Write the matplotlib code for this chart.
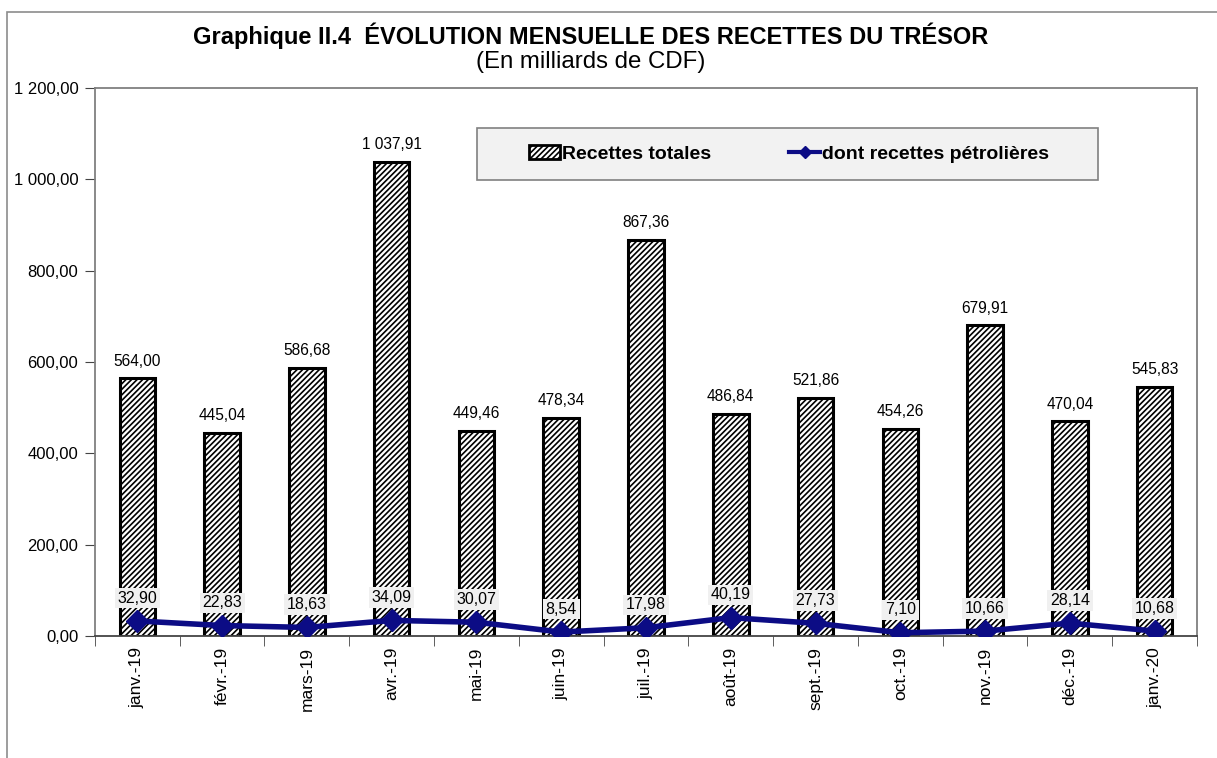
import matplotlib.pyplot as plt
from matplotlib.patches import Rectangle
from matplotlib.lines import Line2D
from matplotlib.ticker import FuncFormatter
import numpy as np

plt.rcParams['font.family'] = ['Liberation Sans', 'DejaVu Sans']
plt.rcParams['hatch.linewidth'] = 1.2

mois = ['janv.-19', 'févr.-19', 'mars-19', 'avr.-19', 'mai-19', 'juin-19', 'juil.-19',
        'août-19', 'sept.-19', 'oct.-19', 'nov.-19', 'déc.-19', 'janv.-20']
recettes_totales = [564.00, 445.04, 586.68, 1037.91, 449.46, 478.34, 867.36,
                    486.84, 521.86, 454.26, 679.91, 470.04, 545.83]
recettes_petrolieres = [32.90, 22.83, 18.63, 34.09, 30.07, 8.54, 17.98,
                        40.19, 27.73, 7.10, 10.66, 28.14, 10.68]


def fr(v, decimals=2):
    s = f"{v:,.{decimals}f}"
    return s.replace(',', ' ').replace('.', ',')


fig = plt.figure(figsize=(12.17, 7.58), dpi=100)
ax = fig.add_axes([0.078, 0.161, 0.9056, 0.723])

# outer frame of the chart (left and top edges visible)
fig.patches.append(Rectangle((7 / 1217, -0.05), 1.2, 1 - 12 / 758 + 0.05,
                             transform=fig.transFigure, fill=False,
                             edgecolor='#8c8c8c', linewidth=1.2))

x = np.arange(len(mois))
ax.bar(x, recettes_totales, width=0.42, color='white', edgecolor='black',
       hatch='//////', linewidth=2.2, zorder=2)
ax.plot(x, recettes_petrolieres, color='#0c0c85', linewidth=4, marker='D',
        markersize=11, zorder=3)

for xi, v in zip(x, recettes_totales):
    ax.annotate(fr(v), (xi, v), xytext=(0, 7), textcoords='offset points',
                ha='center', va='bottom', fontsize=11.2, zorder=4,
                bbox=dict(facecolor='white', edgecolor='none', pad=1))
for xi, v in zip(x, recettes_petrolieres):
    ax.annotate(fr(v), (xi, v), xytext=(0, 11), textcoords='offset points',
                ha='center', va='bottom', fontsize=11.5, zorder=4,
                bbox=dict(facecolor='#f0f0f0', edgecolor='none', pad=2))

ax.set_xlim(-0.5, len(mois) - 0.5)
ax.set_ylim(0, 1200)
ax.set_yticks(np.arange(0, 1201, 200))
ax.yaxis.set_major_formatter(FuncFormatter(lambda v, p: fr(v)))
ax.set_xticks(x)
ax.set_xticklabels(mois, rotation=90, fontsize=12.5)
ax.set_xticks(np.arange(-0.5, len(mois), 1), minor=True)
ax.tick_params(axis='x', which='major', length=0, pad=8)
ax.tick_params(axis='x', which='minor', length=7, direction='out', color='#444444')
ax.tick_params(axis='y', length=7, direction='out', labelsize=12, color='#444444', pad=5)
for s in ax.spines.values():
    s.set_color('#808080')
    s.set_linewidth(1.3)
ax.spines['bottom'].set_color('#444444')

fig.text(0.485, 0.953, 'Graphique II.4  ÉVOLUTION MENSUELLE DES RECETTES DU TRÉSOR',
         ha='center', va='center', fontsize=17, fontweight='bold')
fig.text(0.485, 0.918, '(En milliards de CDF)', ha='center', va='center', fontsize=17.3)

# legend box
ax.add_patch(Rectangle((0.3466, 0.832), 0.5634, 0.095, transform=ax.transAxes,
                       facecolor='#f2f2f2', edgecolor='#808080', linewidth=1.2, zorder=5))
handles = [Rectangle((0, 0), 1, 1, facecolor='white', edgecolor='black', hatch='//////', linewidth=2),
           Line2D([0], [0], color='#0c0c85', linewidth=3, marker='D', markersize=6)]
leg = ax.legend(handles, ['Recettes totales', 'dont recettes pétrolières'],
                loc='center', bbox_to_anchor=(0.63, 0.879), ncol=2, frameon=False,
                prop={'weight': 'bold', 'size': 14}, handlelength=1.6,
                handletextpad=0.1, columnspacing=4.0)
leg.set_zorder(6)

fig.savefig('out.png', dpi=100)
